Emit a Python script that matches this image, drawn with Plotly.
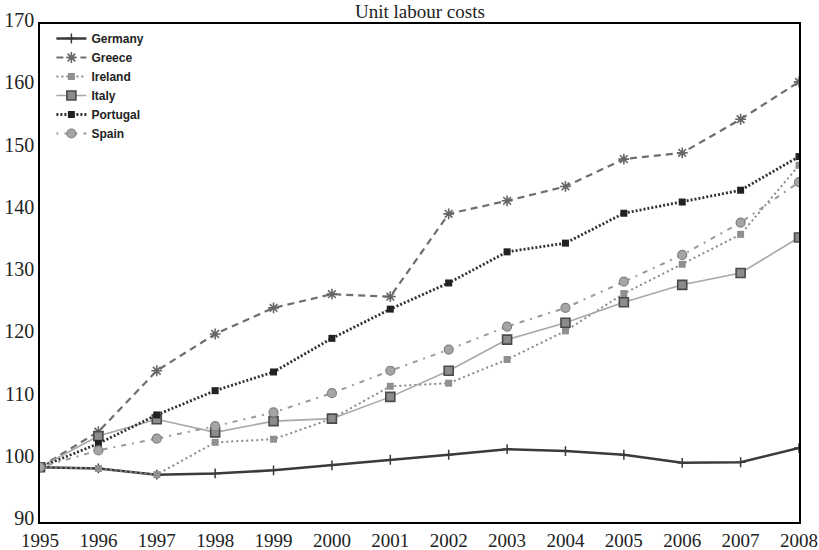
import plotly.graph_objects as go

years = list(range(1995, 2009))
germany = [98.8, 98.6, 97.6, 97.8, 98.3, 99.1, 100.0, 100.8, 101.7, 101.4, 100.8, 99.5, 99.6, 101.9]
greece = [98.8, 104.5, 114.3, 120.2, 124.4, 126.6, 126.2, 139.5, 141.6, 143.9, 148.3, 149.3, 154.7, 160.7]
ireland = [98.8, 98.6, 97.6, 102.8, 103.3, 106.6, 111.8, 112.3, 116.1, 120.7, 126.7, 131.4, 136.2, 147.3]
italy = [98.8, 103.8, 106.5, 104.4, 106.2, 106.6, 110.1, 114.3, 119.3, 122.0, 125.3, 128.1, 130.0, 135.7]
portugal = [98.8, 102.6, 107.2, 111.1, 114.1, 119.5, 124.2, 128.4, 133.4, 134.8, 139.6, 141.4, 143.3, 148.7]
spain = [98.8, 101.5, 103.4, 105.4, 107.6, 110.7, 114.3, 117.7, 121.4, 124.4, 128.6, 132.9, 138.1, 144.6]
y_ticks = list(range(90, 171, 10))

fig = go.Figure()

styles = [
    ("Germany", germany, dict(color="#3a3a3a", width=2.5, dash="solid"),
     dict(symbol="cross-thin-open", size=7, color="#3a3a3a", line=dict(width=1.5, color="#3a3a3a"))),
    ("Greece", greece, dict(color="#6e6e6e", width=2.2, dash="7px,5px"),
     dict(symbol="asterisk-open", size=9, color="#666666", line=dict(width=1.6, color="#666666"))),
    ("Ireland", ireland, dict(color="#8a8a8a", width=2, dash="2px,3px"),
     dict(symbol="square", size=7, color="#8f8f8f", line=dict(width=0))),
    ("Italy", italy, dict(color="#a8a8a8", width=1.6, dash="solid"),
     dict(symbol="square", size=9, color="#8c8c8c", line=dict(width=1.6, color="#4a4a4a"))),
    ("Portugal", portugal, dict(color="#303030", width=2.8, dash="2px,2px"),
     dict(symbol="square", size=7, color="#222222", line=dict(width=0))),
    ("Spain", spain, dict(color="#9a9a9a", width=2, dash="2px,6px,5px,6px"),
     dict(symbol="circle", size=9, color="#a5a5a5", line=dict(width=1.2, color="#808080"))),
]

for name, vals, line, marker in styles:
    fig.add_trace(go.Scatter(x=years, y=vals, name=name, mode="lines+markers",
                             line=line, marker=marker))

serif = "Liberation Serif, Times New Roman, serif"

fig.update_layout(
    width=819, height=550,
    margin=dict(l=40, r=20, t=24, b=28),
    paper_bgcolor="white", plot_bgcolor="white",
    showlegend=True,
    legend=dict(x=0.015, y=1.0, xanchor="left", yanchor="top",
                bgcolor="rgba(0,0,0,0)",
                font=dict(family="Liberation Sans, Arial, sans-serif", size=12, color="#222222",
                          weight="bold"),
                tracegroupgap=0, itemwidth=30),
    annotations=[dict(text="Unit labour costs", xref="paper", yref="paper",
                      x=0.5, y=1.026, xanchor="center", yanchor="middle",
                      showarrow=False, font=dict(family=serif, size=19, color="#222222"))],
)

fig.update_xaxes(range=[1995, 2008], tickmode="array", tickvals=years,
                 ticktext=[str(y) for y in years],
                 showgrid=False, zeroline=False, showline=True, linecolor="black",
                 linewidth=1.5, mirror=True, ticks="", ticklabelstandoff=0,
                 automargin=False,
                 tickfont=dict(family=serif, size=19, color="#222222"))
fig.update_yaxes(range=[90, 170], tickmode="array", tickvals=y_ticks,
                 ticktext=[str(v) for v in y_ticks],
                 showgrid=False, zeroline=False, showline=True, linecolor="black",
                 linewidth=1.5, mirror=True, ticks="", automargin=False,
                 ticklabelshift=-4,
                 tickfont=dict(family=serif, size=20, color="#222222"))

fig.write_html("out.html", config={"displayModeBar": False},
               post_script="document.body.style.margin='0';")
